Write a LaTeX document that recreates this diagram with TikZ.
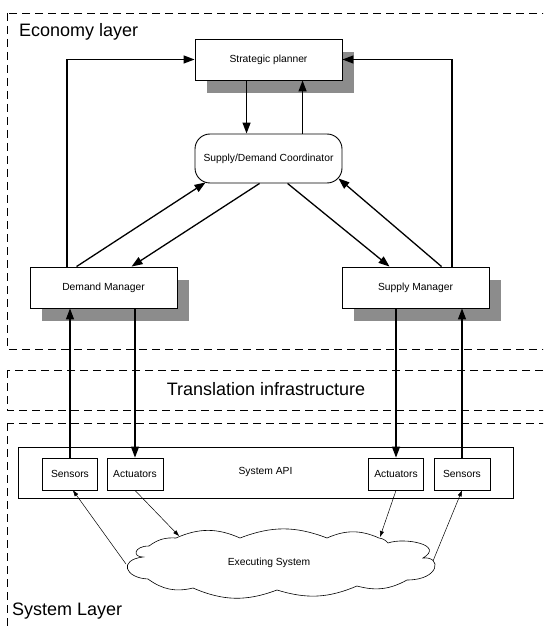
\documentclass[tikz,border=0pt]{standalone}
\usepackage{fontspec}
\setmainfont{Liberation Sans}
\usetikzlibrary{arrows.meta,calc,shadows}
\definecolor{shadowgray}{RGB}{140,140,140}
\begin{document}
\begin{tikzpicture}[x=1pt,y=-1pt,
  layer/.style={draw, line width=0.8pt, dash pattern=on 8pt off 5pt},
  layertext/.style={font=\fontsize{18}{21}\selectfont, inner sep=0},
  mainbox/.style={draw, fill=white, line width=0.9pt, minimum width=147pt, inner sep=0,
    font=\fontsize{10.3}{12}\selectfont},
  shadowed/.style={drop shadow={shadow xshift=12pt, shadow yshift=-13pt, fill=shadowgray, opacity=1}},
  smallbox/.style={draw, fill=white, line width=0.8pt, minimum height=32pt, inner sep=0,
    font=\fontsize{10.3}{12}\selectfont},
  thick arrow/.style={line width=1.3pt, -{Triangle[length=11pt,width=8pt]}},
  thin arrow/.style={line width=0.5pt, -{Triangle[length=6pt,width=4pt]}}]
\useasboundingbox (0,0) rectangle (543,628);
\clip (0,0) rectangle (543,628);
\fill[white] (0,0) rectangle (543,628);

% layers
\draw[layer] (7,13) rectangle (560,349);
\draw[layer] (7,370) rectangle (560,410);
\draw[layer] (7,423) rectangle (560,660);
\node[layertext, anchor=base west] (econ) at (19,37) {Economy layer};
\node[layertext, anchor=base] (trans) at (266,395) {Translation infrastructure};
\node[layertext, anchor=base west] (sysl) at (12,615) {System Layer};

% economy nodes
\node[mainbox, shadowed, minimum height=41pt] (planner) at (268.5,59.5) {Strategic planner};
\node[mainbox, rounded corners=15pt, minimum height=49pt] (coord) at (268.5,158.5) {Supply/Demand Coordinator};
\node[mainbox, shadowed, minimum height=41pt] (dm) at (103.5,287.5) {Demand Manager};
\node[mainbox, shadowed, minimum height=41pt] (sm) at (415.5,287.5) {Supply Manager};

% system nodes
\node[draw, line width=0.8pt, minimum width=495pt, minimum height=51pt, inner sep=0] (api) at (265.5,472.5) {};
\node[font=\fontsize{10.3}{12}\selectfont, inner sep=0] (apitext) at (265.5,472) {System API};
\node[smallbox, minimum width=55pt] (sensL) at (70,474) {Sensors};
\node[smallbox, minimum width=56pt] (actL) at (135,474) {Actuators};
\node[smallbox, minimum width=55pt] (actR) at (396,474) {Actuators};
\node[smallbox, minimum width=56pt] (sensR) at (462,474) {Sensors};

% cloud outline
\draw[line width=0.6pt, fill=white]
  (148,579) .. controls (125,578) and (118,560) .. (143,557)
  .. controls (132,557) and (134,546) .. (149,546)
  to[bend left=20] (176,538)
  to[bend left=24] (240,538)
  to[bend left=21] (327,538)
  to[bend left=24] (379,538)
  to[bend left=20] (388,543)
  .. controls (405,537) and (445,545) .. (423,558)
  .. controls (442,556) and (440,580) .. (407,580)
  to[bend left=22] (357,586)
  to[bend left=20] (277,590)
  to[bend left=22] (193,588)
  to[bend left=25] cycle;
\node[font=\fontsize{10.3}{12}\selectfont, inner sep=0] (cloud) at (269,563) {Executing System};
\coordinate (cloudL) at (126,564);
\coordinate (cloudTL) at (179,536);
\coordinate (cloudTR) at (380,537);
\coordinate (cloudR) at (433,561);

% coordinates
\coordinate (lx) at (67,0);
\coordinate (rx) at (452,0);

% economy arrows
\draw[thick arrow] (dm.north -| lx) |- (planner.west);
\draw[thick arrow] (sm.north -| rx) |- (planner.east);
\draw[thick arrow] ($(planner.south west)+(52,0)$) -- ($(coord.north west)+(52,0)$);
\draw[thick arrow] ($(coord.north west)+(108,0)$) -- ($(planner.south west)+(108,0)$);
\draw[thick arrow] ($(dm.north west)+(47,0)$) -- ($(coord.south west)+(11,-1)$);
\draw[thick arrow] ($(coord.south west)+(65,0)$) -- ($(dm.north west)+(102,0)$);
\draw[thick arrow] ($(coord.south west)+(93,0)$) -- ($(sm.north west)+(48,0)$);
\draw[thick arrow] ($(sm.north west)+(100,0)$) -- ($(coord.south east)+(-4,-5)$);

% vertical arrows
\draw[thick arrow] (sensL.north) -- (sensL.north |- dm.south);
\draw[thick arrow] (actL.north |- dm.south) -- (actL.north);
\draw[thick arrow] (actR.north |- sm.south) -- (actR.north);
\draw[thick arrow] (sensR.north) -- (sensR.north |- sm.south);

% thin arrows
\draw[thin arrow] (cloudL) -- ($(sensL.south)+(3,0)$);
\draw[thin arrow] (actL.south) -- (cloudTL);
\draw[thin arrow] (actR.south) -- (cloudTR);
\draw[thin arrow] (cloudR) -- (sensR.south);
\end{tikzpicture}
\end{document}
